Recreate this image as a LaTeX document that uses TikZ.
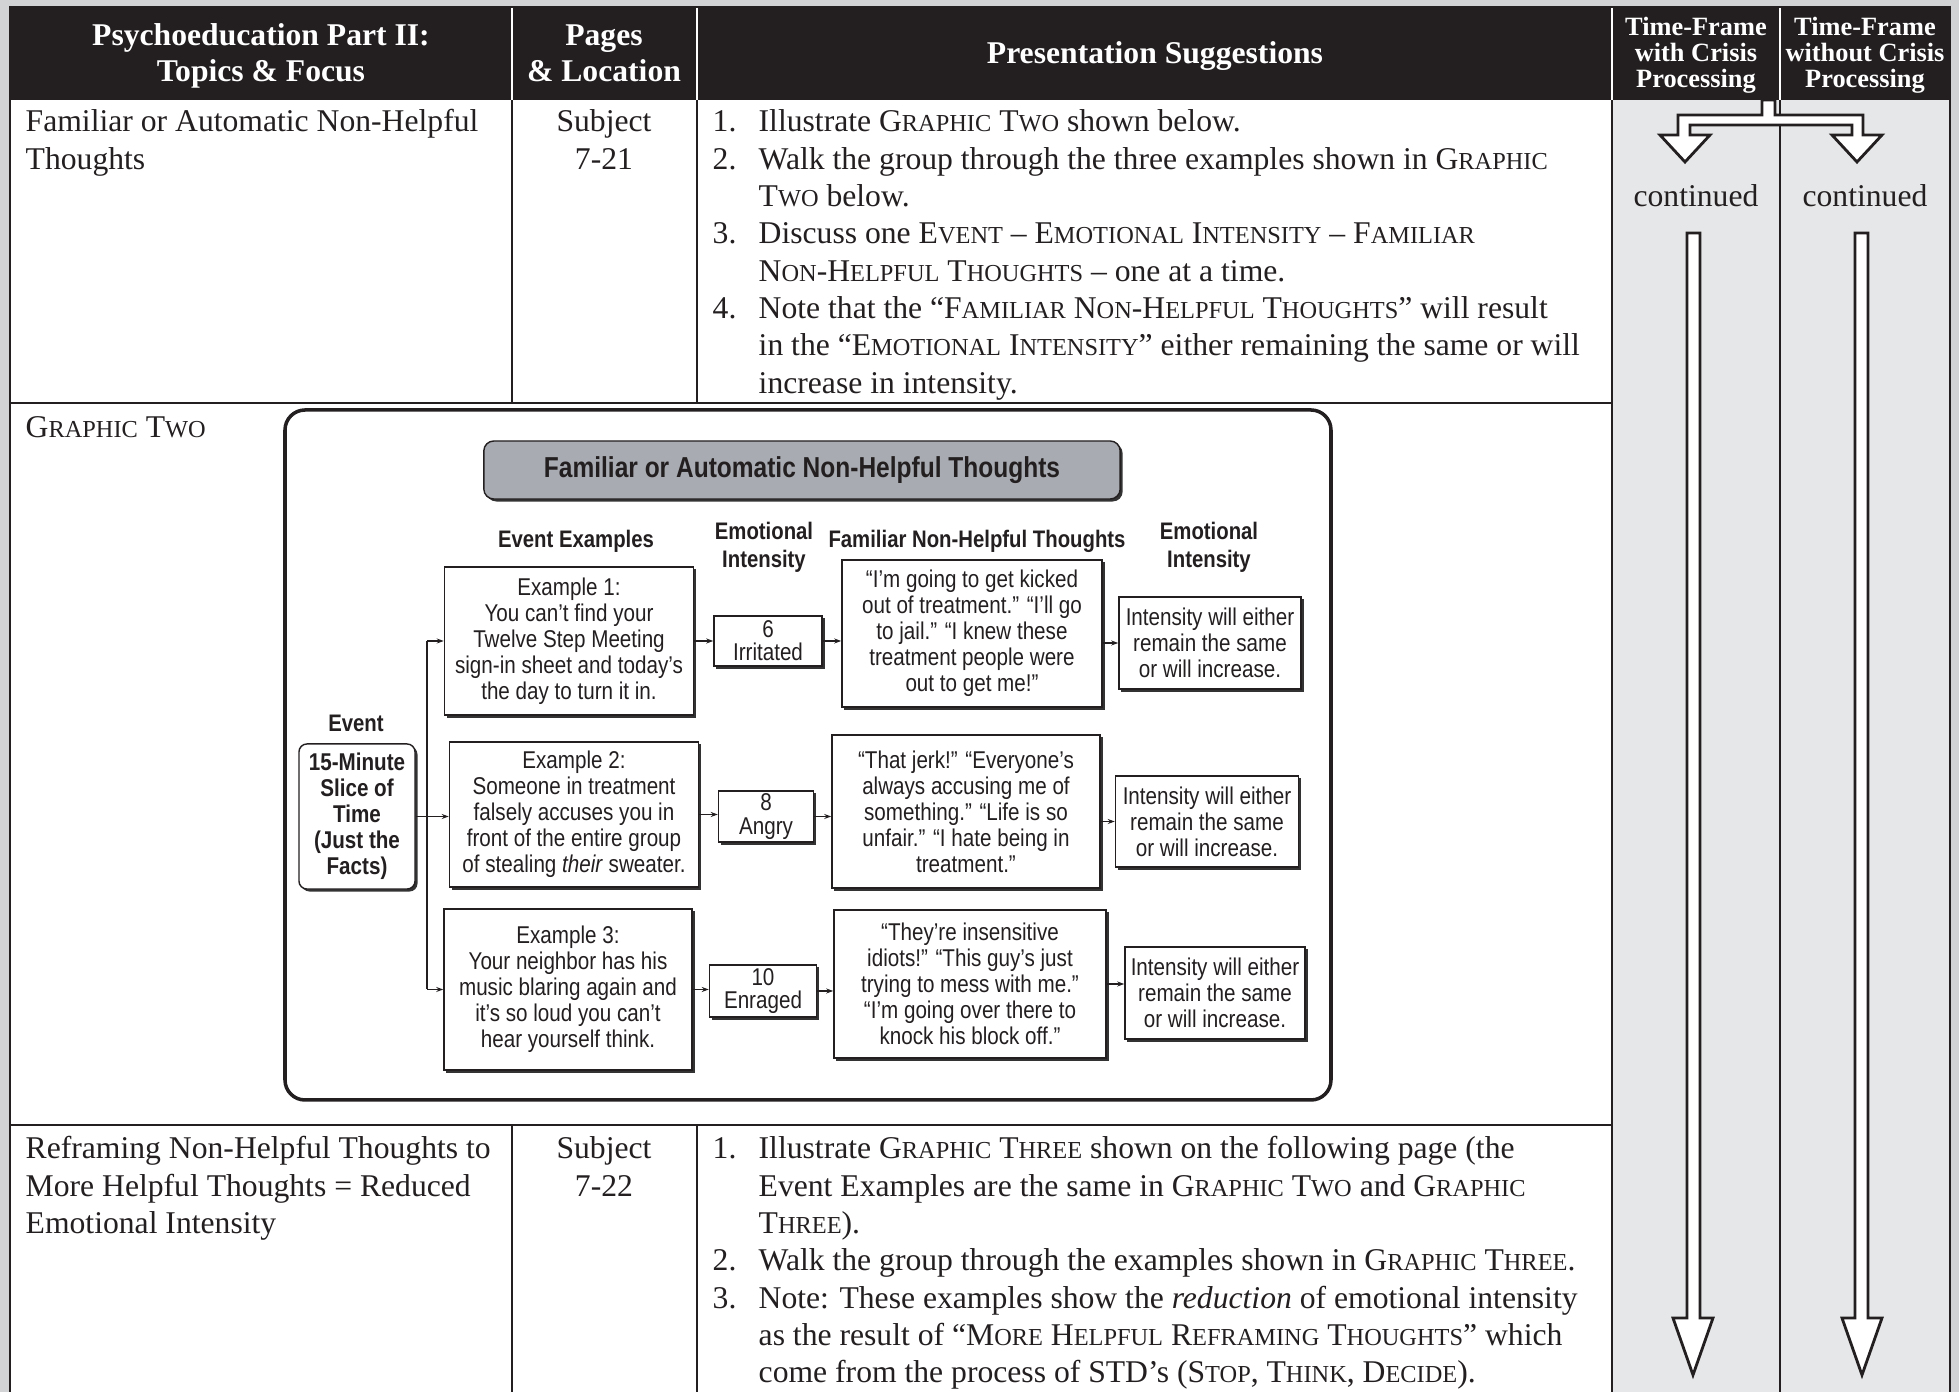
\documentclass[tikz,border=0pt]{standalone}
\usepackage{fontspec}
\setmainfont{Liberation Serif}
\newfontfamily\scfont[Scale=0.77]{Liberation Serif}
\newfontfamily\narrowfont[FakeStretch=0.85]{Liberation Sans}
\usetikzlibrary{arrows.meta, shadows}

\definecolor{pagegray}{HTML}{D1D3D4}
\definecolor{colgray}{HTML}{E6E7E8}
\definecolor{titlegray}{HTML}{A8ABB1}
\definecolor{headblack}{HTML}{231F20}
\definecolor{inkblack}{HTML}{231F20}

\newcommand{\ssc}[1]{{\scfont\MakeUppercase{#1}}}

\tikzset{
	rowtext/.style={anchor=base west, inner sep=0pt, text=inkblack, font=\fontsize{9pt}{10.6pt}\selectfont},
	rowcenter/.style={rowtext, anchor=base},
	headtext/.style={anchor=base, inner sep=0pt, text=white, font=\bfseries\fontsize{9pt}{10.2pt}\selectfont},
	headsmall/.style={headtext, font=\bfseries\fontsize{7.5pt}{7.5pt}\selectfont},
	boxshadow/.style={drop shadow={shadow xshift=0.025cm, shadow yshift=-0.025cm, fill=black!80, opacity=1}},
	exbox/.style={draw=inkblack, fill=white, line width=0.4pt, boxshadow, align=center, inner sep=0pt, text=inkblack, font=\narrowfont\fontsize{6.9pt}{7.4pt}\selectfont},
	numbox/.style={exbox, font=\narrowfont\fontsize{6.9pt}{6.6pt}\selectfont},
	colhead/.style={align=center, inner sep=0pt, text=inkblack, font=\narrowfont\bfseries\fontsize{6.8pt}{8pt}\selectfont},
	flowarrow/.style={draw=inkblack, line width=0.4pt, -{Stealth[length=0.07cm, width=0.05cm]}},
	gridline/.style={draw=inkblack, line width=0.6pt},
	hollowarrow/.style={draw=inkblack, fill=white, line width=0.8pt, line join=miter},
}

\begin{document}
\begin{tikzpicture}[x=0.01cm, y=-0.01cm]
	% Page and table background:
	\useasboundingbox (0,0) rectangle (1959,1392);
	\fill[pagegray] (0,0) rectangle (1959,1392);
	\fill[white] (10,100) rectangle (1612,1392);
	\fill[colgray] (1612,100) rectangle (1950,1392);
	\fill[headblack] (10,6) rectangle (1950,100);
	\draw[white, line width=0.4pt] (512,8) -- (512,100);
	\draw[white, line width=0.4pt] (697,8) -- (697,100);
	\draw[white, line width=0.4pt] (1612,8) -- (1612,100);
	\draw[white, line width=0.4pt] (1780,8) -- (1780,100);

	% Grid lines:
	\draw[gridline] (10,6) -- (10,1392);
	\draw[gridline] (1950,6) -- (1950,1392);
	\draw[gridline, line width=0.8pt] (10,403) -- (1612,403);
	\draw[gridline, line width=0.8pt] (10,1125) -- (1612,1125);
	\draw[gridline] (512,100) -- (512,403);
	\draw[gridline] (697,100) -- (697,403);
	\draw[gridline] (512,1125) -- (512,1392);
	\draw[gridline] (697,1125) -- (697,1392);
	\draw[gridline] (1612,100) -- (1612,1392);
	\draw[gridline] (1780,100) -- (1780,1392);

	% Header:
	\node[headtext] (hdtopic1) at (261,46) {Psychoeducation Part II:};
	\node[headtext] (hdtopic2) at (261,82) {Topics \& Focus};
	\node[headtext] (hdpages1) at (604,46) {Pages};
	\node[headtext] (hdpages2) at (604,82) {\& Location};
	\node[headtext] (hdsugg) at (1155,64) {Presentation Suggestions};
	\node[headsmall] (hdwith1) at (1696,36) {Time-Frame};
	\node[headsmall] (hdwith2) at (1696,62) {with Crisis};
	\node[headsmall] (hdwith3) at (1696,88) {Processing};
	\node[headsmall] (hdwo1) at (1865,36) {Time-Frame};
	\node[headsmall] (hdwo2) at (1865,62) {without Crisis};
	\node[headsmall] (hdwo3) at (1865,88) {Processing};

	% Row one:
	\node[rowtext] (topicA1) at (25,132) {Familiar or Automatic Non-Helpful};
	\node[rowtext] (topicA2) at (25,169.3) {Thoughts};
	\node[rowcenter] (pageA1) at (604,132) {Subject};
	\node[rowcenter] (pageA2) at (604,169.3) {7-21};
	\node[rowtext] (numA1) at (712,132) {1.};
	\node[rowtext] (numA2) at (712,169.3) {2.};
	\node[rowtext] (numA3) at (712,243.9) {3.};
	\node[rowtext] (numA4) at (712,318.5) {4.};
	\node[rowtext] (suggA1) at (758,132) {Illustrate G\ssc{raphic} T\ssc{wo} shown below.};
	\node[rowtext] (suggA2) at (758,169.3) {Walk the group through the three examples shown in G\ssc{raphic}};
	\node[rowtext] (suggA3) at (758,206.6) {T\ssc{wo} below.};
	\node[rowtext] (suggA4) at (758,243.9) {Discuss one E\ssc{vent} – E\ssc{motional} I\ssc{ntensity} – F\ssc{amiliar}};
	\node[rowtext] (suggA5) at (758,281.2) {N\ssc{on}-H\ssc{elpful} T\ssc{houghts} – one at a time.};
	\node[rowtext] (suggA6) at (758,318.5) {Note that the “F\ssc{amiliar} N\ssc{on}-H\ssc{elpful} T\ssc{houghts}” will result};
	\node[rowtext] (suggA7) at (758,355.8) {in the “E\ssc{motional} I\ssc{ntensity}” either remaining the same or will};
	\node[rowtext] (suggA8) at (758,393.1) {increase in intensity.};

	% Row two, graphic:
	\node[rowtext] (graphiclabel) at (25,438) {G\ssc{raphic} T\ssc{wo}};
	\draw[draw=inkblack, line width=1pt, rounded corners=0.2cm] (285,410) rectangle (1331,1100);
	\node[exbox, fill=titlegray, rounded corners=0.1cm, minimum width=6.36cm, minimum height=0.58cm, font=\narrowfont\bfseries\fontsize{8.2pt}{9pt}\selectfont] (title) at (802,470) {Familiar or Automatic Non-Helpful Thoughts};

	\node[colhead] (hdevent) at (576,541) {Event Examples};
	\node[colhead] (hdemo1) at (764,547) {Emotional\\Intensity};
	\node[colhead] (hdthought) at (977,541) {Familiar Non-Helpful Thoughts};
	\node[colhead] (hdemo2) at (1209,547) {Emotional\\Intensity};
	\node[colhead] (hdslice) at (356,723) {Event};

	\node[exbox, rounded corners=0.08cm, minimum width=1.16cm, minimum height=1.45cm, font=\narrowfont\bfseries\fontsize{6.9pt}{7.4pt}\selectfont] (event) at (357,816.5) {15-Minute\\Slice of\\Time\\(Just the\\Facts)};

	\node[exbox, minimum width=2.49cm, minimum height=1.48cm] (ex1) at (569,641) {Example 1:\\You can’t find your\\Twelve Step Meeting\\sign-in sheet and today’s\\the day to turn it in.};
	\node[exbox, minimum width=2.49cm, minimum height=1.45cm] (ex2) at (574,814.5) {Example 2:\\Someone in treatment\\falsely accuses you in\\front of the entire group\\of stealing \textit{their} sweater.};
	\node[exbox, minimum width=2.48cm, minimum height=1.61cm] (ex3) at (568,989.5) {Example 3:\\Your neighbor has his\\music blaring again and\\it’s so loud you can’t\\hear yourself think.};

	\node[numbox, minimum width=1.08cm, minimum height=0.5cm] (num1) at (768,641) {6\\Irritated};
	\node[numbox, minimum width=0.95cm, minimum height=0.51cm] (num2) at (766,816.5) {8\\Angry};
	\node[numbox, minimum width=1.07cm, minimum height=0.52cm] (num3) at (763,991) {10\\Enraged};

	\node[exbox, minimum width=2.6cm, minimum height=1.47cm] (thought1) at (972,633.5) {“I’m going to get kicked\\out of treatment.” “I’ll go\\to jail.” “I knew these\\treatment people were\\out to get me!”};
	\node[exbox, minimum width=2.68cm, minimum height=1.53cm] (thought2) at (966,811.5) {“That jerk!” “Everyone’s\\always accusing me of\\something.” “Life is so\\unfair.” “I hate being in\\treatment.”};
	\node[exbox, minimum width=2.72cm, minimum height=1.48cm] (thought3) at (970,984) {“They’re insensitive\\idiots!” “This guy’s just\\trying to mess with me.”\\“I’m going over there to\\knock his block off.”};

	\node[exbox, minimum width=1.82cm, minimum height=0.92cm] (result1) at (1210,643) {Intensity will either\\remain the same\\or will increase.};
	\node[exbox, minimum width=1.83cm, minimum height=0.91cm] (result2) at (1207,821.5) {Intensity will either\\remain the same\\or will increase.};
	\node[exbox, minimum width=1.8cm, minimum height=0.92cm] (result3) at (1215,993) {Intensity will either\\remain the same\\or will increase.};

	% Connectors:
	\coordinate (trunk) at (427,816);
	\draw[flowarrow] (event.east) -- (event.east -| ex2.west);
	\draw[draw=inkblack, line width=0.4pt] (trunk |- ex1.west) -- (trunk |- ex3.west);
	\draw[flowarrow] (trunk |- ex1.west) -- (ex1.west);
	\draw[flowarrow] (trunk |- ex3.west) -- (ex3.west);
	\draw[flowarrow] (ex1.east) -- (ex1.east -| num1.west);
	\draw[flowarrow] (num1.east) -- (num1.east -| thought1.west);
	\draw[flowarrow] (result1.west -| thought1.east) -- (result1.west);
	\draw[flowarrow] (ex2.east) -- (ex2.east -| num2.west);
	\draw[flowarrow] (num2.east) -- (num2.east -| thought2.west);
	\draw[flowarrow] (result2.west -| thought2.east) -- (result2.west);
	\draw[flowarrow] (ex3.east) -- (ex3.east -| num3.west);
	\draw[flowarrow] (num3.east) -- (num3.east -| thought3.west);
	\draw[flowarrow] (thought3.east) -- (thought3.east -| result3.west);

	% Row three:
	\node[rowtext] (topicB1) at (25,1159) {Reframing Non-Helpful Thoughts to};
	\node[rowtext] (topicB2) at (25,1196.3) {More Helpful Thoughts = Reduced};
	\node[rowtext] (topicB3) at (25,1233.6) {Emotional Intensity};
	\node[rowcenter] (pageB1) at (604,1159) {Subject};
	\node[rowcenter] (pageB2) at (604,1196.3) {7-22};
	\node[rowtext] (numB1) at (712,1159) {1.};
	\node[rowtext] (numB2) at (712,1270.9) {2.};
	\node[rowtext] (numB3) at (712,1308.2) {3.};
	\node[rowtext] (suggB1) at (758,1159) {Illustrate G\ssc{raphic} T\ssc{hree} shown on the following page (the};
	\node[rowtext] (suggB2) at (758,1196.3) {Event Examples are the same in G\ssc{raphic} T\ssc{wo} and G\ssc{raphic}};
	\node[rowtext] (suggB3) at (758,1233.6) {T\ssc{hree}).};
	\node[rowtext] (suggB4) at (758,1270.9) {Walk the group through the examples shown in G\ssc{raphic} T\ssc{hree}.};
	\node[rowtext] (suggB5) at (758,1308.2) {Note: These examples show the \textit{reduction} of emotional intensity};
	\node[rowtext] (suggB6) at (758,1345.5) {as the result of “M\ssc{ore} H\ssc{elpful} R\ssc{eframing} T\ssc{houghts}” which};
	\node[rowtext] (suggB7) at (758,1382.8) {come from the process of STD’s (S\ssc{top}, T\ssc{hink}, D\ssc{ecide}).};

	% Time-frame columns:
	\draw[hollowarrow] (1762,100) -- (1762,115) -- (1678,115) -- (1678,135) -- (1660,135) -- (1685,162) -- (1710,135) -- (1690,135) -- (1690,125) -- (1852,125) -- (1852,135) -- (1832,135) -- (1857,162) -- (1882,135) -- (1863,135) -- (1863,115) -- (1775,115) -- (1775,100) -- cycle;
	\node[rowcenter] (contwith) at (1696,207) {continued};
	\node[rowcenter] (contwo) at (1865,207) {continued};
	\draw[hollowarrow] (1687,233) -- (1687,1318) -- (1673,1318) -- (1693,1375) -- (1713,1318) -- (1700,1318) -- (1700,233) -- cycle;
	\draw[hollowarrow] (1855,233) -- (1855,1318) -- (1842,1318) -- (1862,1375) -- (1882,1318) -- (1868,1318) -- (1868,233) -- cycle;
\end{tikzpicture}
\end{document}
